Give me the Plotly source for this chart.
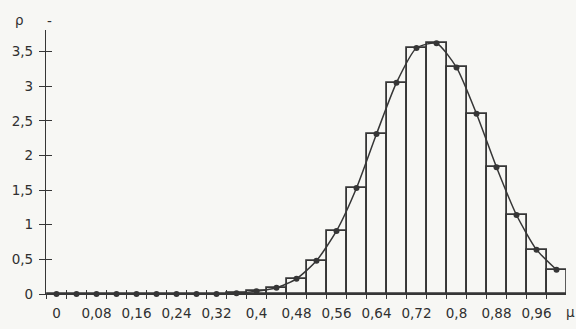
import plotly.graph_objects as go

# Data
mu = [0.00, 0.04, 0.08, 0.12, 0.16, 0.20, 0.24, 0.28, 0.32, 0.36, 0.40, 0.44, 0.48,
      0.52, 0.56, 0.60, 0.64, 0.68, 0.72, 0.76, 0.80, 0.84, 0.88, 0.92, 0.96, 1.00]
rho = [0.0, 0.0, 0.0, 0.0, 0.0, 0.0, 0.0, 0.0, 0.0, 0.01, 0.04, 0.09, 0.22,
       0.48, 0.91, 1.53, 2.31, 3.05, 3.55, 3.62, 3.27, 2.60, 1.83, 1.14, 0.64, 0.35]
bin_width = 0.04

x_label_vals = [0, 0.08, 0.16, 0.24, 0.32, 0.4, 0.48, 0.56, 0.64, 0.72, 0.8, 0.88, 0.96]
x_label_text = ["0", "0,08", "0,16", "0,24", "0,32", "0,4", "0,48", "0,56", "0,64",
                "0,72", "0,8", "0,88", "0,96"]
x_edge_ticks = [round(-0.02 + 0.04 * i, 2) for i in range(27)]
y_tick_vals = [0, 0.5, 1, 1.5, 2, 2.5, 3, 3.5]
y_tick_text = ["0", "0,5", "1", "1,5", "2", "2,5", "3", "3,5"]

ink = "#363636"
paper = "#f7f7f4"
font = dict(family="DejaVu Sans, Liberation Sans, Arial", size=13.5, color="#303030")

fig = go.Figure()
fig.add_trace(go.Bar(
    x=mu, y=rho, width=[bin_width] * len(mu),
    marker=dict(color="rgba(255,255,255,0)", line=dict(color=ink, width=1.8)),
    showlegend=False, hoverinfo="skip",
))
fig.add_trace(go.Scatter(
    x=mu, y=rho, mode="lines+markers", cliponaxis=False,
    line=dict(color=ink, width=1.5, shape="spline", smoothing=0.6),
    marker=dict(color=ink, size=6),
    showlegend=False,
))
# helper traces so the overlay axes are active
fig.add_trace(go.Scatter(x=[0], y=[0], xaxis="x2", mode="markers",
                         marker=dict(opacity=0), showlegend=False, hoverinfo="skip"))
fig.add_trace(go.Scatter(x=[0], y=[0], xaxis="x3", mode="markers",
                         marker=dict(opacity=0), showlegend=False, hoverinfo="skip"))
fig.add_trace(go.Scatter(x=[0], y=[0], yaxis="y2", mode="markers",
                         marker=dict(opacity=0), showlegend=False, hoverinfo="skip"))

xr = [-0.021, 1.019]
yr = [0, 3.81]
fig.update_layout(
    width=576, height=329,
    margin=dict(l=46, r=10, t=30, b=35, autoexpand=False),
    paper_bgcolor=paper, plot_bgcolor=paper,
    font=font,
    bargap=0,
    xaxis=dict(range=xr, showgrid=False, zeroline=False, showline=True, layer="below traces",
               linecolor=ink, linewidth=1.3, tickmode="array", tickvals=x_edge_ticks,
               ticks="outside", ticklen=4, tickcolor=ink, tickwidth=1,
               showticklabels=False, automargin=False),
    xaxis2=dict(range=xr, overlaying="x", anchor="y", side="bottom", showgrid=False,
                zeroline=False, showline=False, tickmode="array", tickvals=x_edge_ticks,
                ticks="inside", ticklen=4, tickcolor=ink, tickwidth=1,
                showticklabels=False, automargin=False),
    xaxis3=dict(range=xr, overlaying="x", anchor="y", side="bottom", showgrid=False,
                zeroline=False, showline=False, tickmode="array", tickvals=x_label_vals,
                ticktext=x_label_text, ticks="", ticklabelstandoff=9, automargin=False),
    yaxis=dict(range=yr, showgrid=False, zeroline=False, showline=True, layer="below traces",
               linecolor=ink, linewidth=1.3, tickmode="array", tickvals=y_tick_vals,
               ticktext=y_tick_text, ticks="outside", ticklen=6, tickcolor=ink,
               tickwidth=1.2, ticklabelstandoff=3, automargin=False),
    yaxis2=dict(range=yr, overlaying="y", anchor="x", side="left",
                showgrid=False, zeroline=False, showline=False,
                tickmode="array", tickvals=y_tick_vals, ticks="inside",
                ticklen=6, tickcolor=ink, tickwidth=1.2,
                showticklabels=False, automargin=False),
    annotations=[
        dict(text="ρ", xref="paper", yref="paper", x=-0.063, y=1.075,
             showarrow=False, font=font),
        dict(text="-", xref="paper", yref="paper", x=-0.002, y=1.072,
             showarrow=False, font=font),
        dict(text="μ", xref="paper", yref="paper", x=1.021, y=-0.105,
             showarrow=False, font=font),
    ],
)

fig.write_html("out.html",
               config={"displayModeBar": False},
               post_script="document.body.style.margin='0px';"
                           "document.body.style.background='" + paper + "';")
